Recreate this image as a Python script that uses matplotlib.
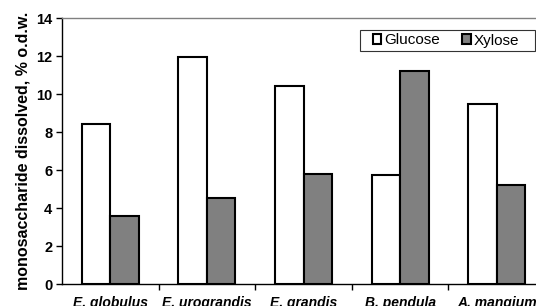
import matplotlib
matplotlib.use("Agg")
import matplotlib.pyplot as plt
from matplotlib.patches import Rectangle
import numpy as np

categories = ["E. globulus", "E. urograndis", "E. grandis", "B. pendula", "A. mangium"]
glucose = [8.4, 11.95, 10.4, 5.75, 9.5]
xylose = [3.6, 4.55, 5.8, 11.2, 5.2]
series_names = ["Glucose", "Xylose"]
yticks = [0, 2, 4, 6, 8, 10, 12, 14]

plt.rcParams['font.family'] = ['Liberation Sans', 'DejaVu Sans']

fig = plt.figure(figsize=(5.36, 3.06), dpi=100)
ax = fig.add_axes([62/536, 1-284/306, (545-62)/536, (284-18)/306])

x = np.arange(len(categories)) + 0.5
w = 0.295
ax.bar(x - w/2, glucose, w, color="white", edgecolor="black", linewidth=1.5, label=series_names[0], zorder=3)
ax.bar(x + w/2, xylose, w, color="#808080", edgecolor="black", linewidth=1.5, label=series_names[1], zorder=3)

ax.set_xlim(0, len(categories))
ax.set_ylim(0, 14)
ax.set_yticks(yticks)
ax.set_yticklabels([str(t) for t in yticks], fontsize=10.5, fontweight="bold")
ax.set_xticks(np.arange(1, len(categories)))
ax.set_xticklabels([])
ax.set_xticks(x, minor=True)
ax.set_xticklabels(categories, minor=True, fontsize=10, fontweight="bold", fontstyle="italic")
ax.tick_params(axis="x", which="minor", length=0, pad=9)
ax.tick_params(axis="x", which="major", length=4, width=1, direction="out")
ax.tick_params(axis="y", length=4, width=1, direction="out", pad=3)

ax.spines["right"].set_visible(False)
ax.spines["top"].set_color("#808080")
ax.spines["top"].set_linewidth(1)
ax.spines["left"].set_linewidth(1)
ax.spines["bottom"].set_linewidth(1)

ax.set_ylabel("monosaccharide dissolved, % o.d.w.", fontsize=11.5, fontweight="bold", labelpad=4)

# legend frame
fig.patches.append(Rectangle((360/536, 1-51/306), 175/536, 21/306, transform=fig.transFigure,
                             facecolor="white", edgecolor="#333333", linewidth=0.8, zorder=4))
leg = fig.legend(loc="center left", bbox_to_anchor=(373/536, 1-40.5/306), ncol=2,
                 fontsize=11, frameon=False,
                 handlelength=0.55, handleheight=0.55, handletextpad=0.2,
                 columnspacing=1.45, borderpad=0, borderaxespad=0)
leg.set_zorder(5)
for h in leg.legend_handles:
    h.set_linewidth(1.5)

fig.savefig("out.png", dpi=100)
